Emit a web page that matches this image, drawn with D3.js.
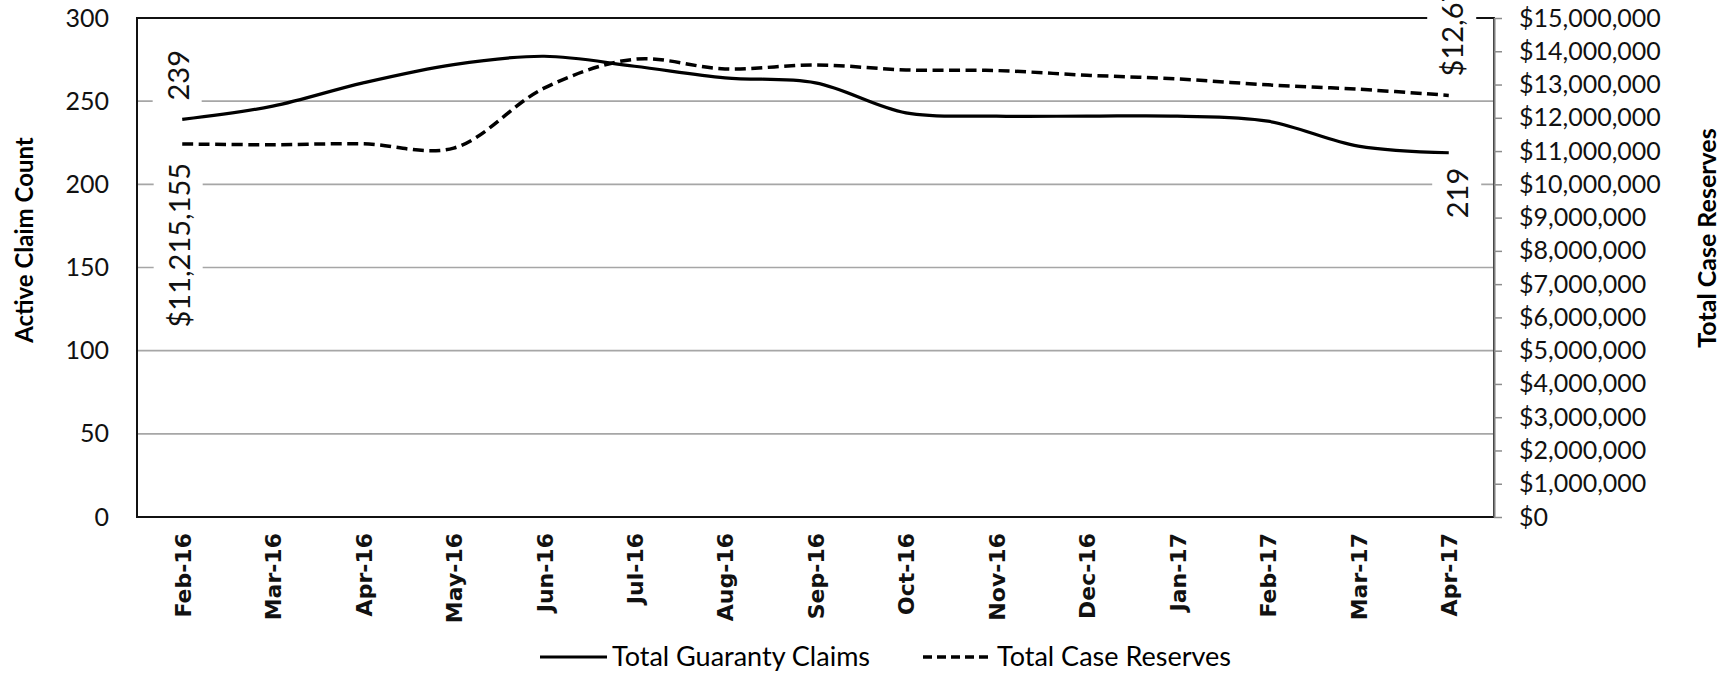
<!DOCTYPE html>
<html>
<head>
<meta charset="utf-8">
<script src="https://cdn.jsdelivr.net/npm/d3@7"></script>
<style>
  body { margin: 0; background: #fff; }
</style>
</head>
<body>
<div id="chart"></div>
<script>
// months on the x axis
const months = ["Feb-16", "Mar-16", "Apr-16", "May-16", "Jun-16", "Jul-16", "Aug-16", "Sep-16",
                "Oct-16", "Nov-16", "Dec-16", "Jan-17", "Feb-17", "Mar-17", "Apr-17"];
// active claim count (left axis)
const claims = [239, 247, 261, 272, 277, 271, 264, 261, 243, 241, 241, 241, 238, 223, 219];
// total case reserves in $ (right axis)
const reserves = [11215155, 11190000, 11220000, 11090000, 12890000, 13760000, 13470000, 13590000,
                  13440000, 13420000, 13280000, 13170000, 12990000, 12860000, 12673000];
// tick values
const leftTicks = [0, 50, 100, 150, 200, 250, 300];
const rightTicks = [0, 1000000, 2000000, 3000000, 4000000, 5000000, 6000000, 7000000, 8000000,
                    9000000, 10000000, 11000000, 12000000, 13000000, 14000000, 15000000];
const seriesNames = ["Total Guaranty Claims", "Total Case Reserves"];

const width = 1727, height = 673;
const plotLeft = 137, plotRight = 1494, plotTop = 18, plotBottom = 517;
const labelFont = "Lato, 'Open Sans', sans-serif";

const svg = d3.select("#chart").append("svg")
    .attr("width", width)
    .attr("height", height)
    .style("background", "#fff");

const x = d3.scalePoint().domain(months).range([plotLeft, plotRight]).padding(0.5);
const yLeft = d3.scaleLinear().domain([0, 300]).range([plotBottom, plotTop]);
const yRight = d3.scaleLinear().domain([0, 15000000]).range([plotBottom, plotTop]);

// horizontal gridlines
svg.append("g")
    .selectAll("line")
    .data(leftTicks.filter(d => d > 0 && d < 300))
    .enter().append("line")
    .attr("x1", plotLeft)
    .attr("x2", plotRight)
    .attr("y1", d => yLeft(d))
    .attr("y2", d => yLeft(d))
    .attr("stroke", "#a6a6a6")
    .attr("stroke-width", 1.6);

// plot frame
svg.append("rect")
    .attr("x", plotLeft)
    .attr("y", plotTop)
    .attr("width", plotRight - plotLeft)
    .attr("height", plotBottom - plotTop)
    .attr("fill", "none")
    .attr("stroke", "#111")
    .attr("stroke-width", 2);

// left axis (labels only)
const leftAxis = svg.append("g")
    .attr("transform", "translate(" + plotLeft + ",0)")
    .call(d3.axisLeft(yLeft).tickValues(leftTicks).tickSize(0).tickPadding(28));
leftAxis.select(".domain").remove();
leftAxis.selectAll("text")
    .style("font-family", labelFont)
    .style("font-size", "25px")
    .attr("fill", "#111");

// right axis
const rightAxis = svg.append("g")
    .attr("transform", "translate(" + plotRight + ",0)")
    .call(d3.axisRight(yRight).tickValues(rightTicks).tickSize(8).tickSizeOuter(0)
        .tickPadding(17).tickFormat(d3.format("$,")));
rightAxis.select(".domain").attr("stroke", "#7f7f7f").attr("stroke-width", 2);
rightAxis.selectAll(".tick line").attr("stroke", "#8c8c8c").attr("stroke-width", 1.5);
rightAxis.selectAll("text")
    .style("font-family", labelFont)
    .style("font-size", "25px")
    .attr("fill", "#111");

// x axis, labels turned -90
const xAxis = svg.append("g")
    .attr("transform", "translate(0," + plotBottom + ")")
    .call(d3.axisBottom(x).tickSize(0));
xAxis.select(".domain").remove();
xAxis.selectAll("text")
    .attr("transform", "rotate(-90)")
    .attr("x", -16)
    .attr("y", 0)
    .attr("dy", "0.36em")
    .style("text-anchor", "end")
    .style("font-family", "'DejaVu Sans', Verdana, sans-serif")
    .style("font-weight", "bold")
    .style("font-size", "22px")
    .attr("fill", "#111");

// axis titles
svg.append("text")
    .attr("transform", "translate(25,240) rotate(-90)")
    .attr("text-anchor", "middle")
    .attr("dy", "0.35em")
    .style("font-family", labelFont)
    .style("font-weight", "bold")
    .style("font-size", "24px")
    .text("Active Claim Count");

svg.append("text")
    .attr("transform", "translate(1707,238) rotate(-90)")
    .attr("text-anchor", "middle")
    .attr("dy", "0.35em")
    .style("font-family", labelFont)
    .style("font-weight", "bold")
    .style("font-size", "25px")
    .text("Total Case Reserves");

// smoothed lines
const claimLine = d3.line()
    .x((d, i) => x(months[i]))
    .y(d => yLeft(d))
    .curve(d3.curveCatmullRom.alpha(0.5));
const reserveLine = d3.line()
    .x((d, i) => x(months[i]))
    .y(d => yRight(d))
    .curve(d3.curveCatmullRom.alpha(0.5));

svg.append("path")
    .datum(reserves)
    .attr("d", reserveLine)
    .attr("fill", "none")
    .attr("stroke", "#000")
    .attr("stroke-width", 3.5)
    .attr("stroke-dasharray", "11,5.5");

svg.append("path")
    .datum(claims)
    .attr("d", claimLine)
    .attr("fill", "none")
    .attr("stroke", "#000")
    .attr("stroke-width", 3.2);

// data labels on first / last points, with a white box behind
const last = months.length - 1;
const dataLabels = [
    { px: x(months[0]), py: yLeft(claims[0]), text: claims[0], above: true, dx: -4, gap: 19 },
    { px: x(months[0]), py: yRight(reserves[0]), text: d3.format("$,")(reserves[0]), above: false, dx: -3, gap: 19 },
    { px: x(months[last]), py: yLeft(claims[last]), text: claims[last], above: false, dx: 9, gap: 15 },
    { px: x(months[last]), py: yRight(reserves[last]), text: d3.format("$,")(reserves[last]), above: true, dx: 4, gap: 19 }
];

dataLabels.forEach(d => {
    const g = svg.append("g")
        .attr("transform", "translate(" + (d.px + d.dx) + "," + (d.above ? d.py - d.gap : d.py + d.gap) + ")");
    g.append("text")
        .attr("transform", "rotate(-90)")
        .attr("dy", "0.36em")
        .attr("text-anchor", d.above ? "start" : "end")
        .style("font-family", labelFont)
        .style("font-size", "29px")
        .attr("fill", "#111")
        .text(d.text);
    const box = g.node().getBBox();
    g.insert("rect", "text")
        .attr("x", box.x - 7)
        .attr("y", box.y - 5)
        .attr("width", box.width + 14)
        .attr("height", box.height + 10)
        .attr("fill", "#fff");
});

// legend
const legend = svg.append("g").attr("transform", "translate(0,657)");
legend.append("line")
    .attr("x1", 540).attr("x2", 607)
    .attr("stroke", "#000").attr("stroke-width", 3.2);
legend.append("text")
    .attr("x", 612).attr("dy", "0.35em")
    .style("font-family", labelFont).style("font-size", "27px")
    .text(seriesNames[0]);
legend.append("line")
    .attr("x1", 923).attr("x2", 991)
    .attr("stroke", "#000").attr("stroke-width", 3.5)
    .attr("stroke-dasharray", "9,5");
legend.append("text")
    .attr("x", 997).attr("dy", "0.35em")
    .style("font-family", labelFont).style("font-size", "27px")
    .text(seriesNames[1]);
</script>
</body>
</html>
